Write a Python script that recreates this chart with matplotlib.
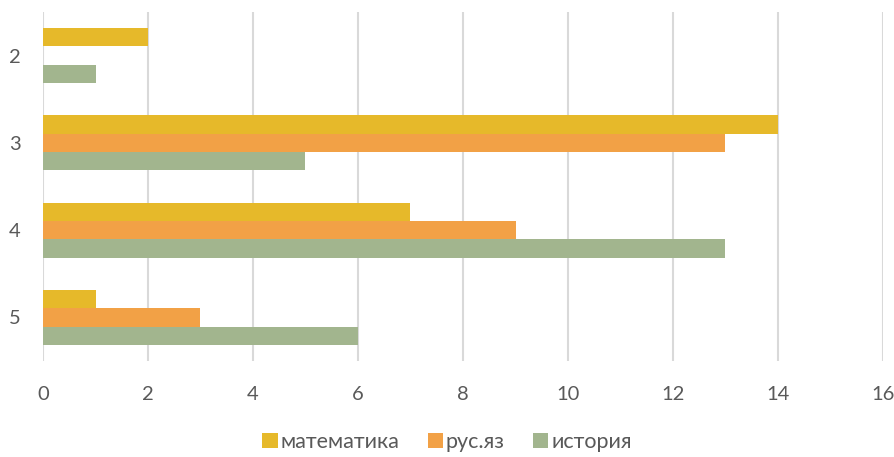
import matplotlib
matplotlib.use("Agg")
import matplotlib.pyplot as plt
import numpy as np

categories = ["2", "3", "4", "5"]
series_names = ["математика", "рус.яз", "история"]
math_vals = [2, 14, 7, 1]
rus_vals = [0, 13, 9, 3]
hist_vals = [1, 5, 13, 6]
colors = ["#E6B92A", "#F2A146", "#A2B58E"]
x_ticks = [0, 2, 4, 6, 8, 10, 12, 14, 16]

plt.rcParams['font.family'] = ['Lato', 'DejaVu Sans']

fig = plt.figure(figsize=(8.94, 4.57), dpi=100)
ax = fig.add_axes([43/894, 1 - 361/457, (883-43)/894, (361-12)/457])

h = 0.21
pos = np.arange(len(categories))
for i, (vals, name, c) in enumerate(zip([math_vals, rus_vals, hist_vals], series_names, colors)):
    ax.barh(pos + (i - 1) * h, vals, height=h, color=c, label=name, zorder=3)

ax.set_ylim(3.5, -0.5)
ax.set_xlim(0, 16)
ax.set_xticks(x_ticks)
ax.set_yticks(pos)
ax.set_yticklabels(categories)
ax.grid(axis='x', color='#D9D9D9', linewidth=1.5, zorder=0)
for s in ax.spines.values():
    s.set_visible(False)
ax.tick_params(axis='both', length=0, labelsize=14.5, labelcolor='#595959')
ax.tick_params(axis='x', pad=18)
ax.tick_params(axis='y', pad=16)

handles, labels = ax.get_legend_handles_labels()
fig.legend(handles, labels, loc='center', bbox_to_anchor=(0.5, 1 - 442/457), ncol=3,
           frameon=False, fontsize=15.5, labelcolor='#595959', handlelength=0.7, handleheight=0.7,
           handletextpad=0.15, columnspacing=1.3)

fig.savefig("out.png", dpi=100)
